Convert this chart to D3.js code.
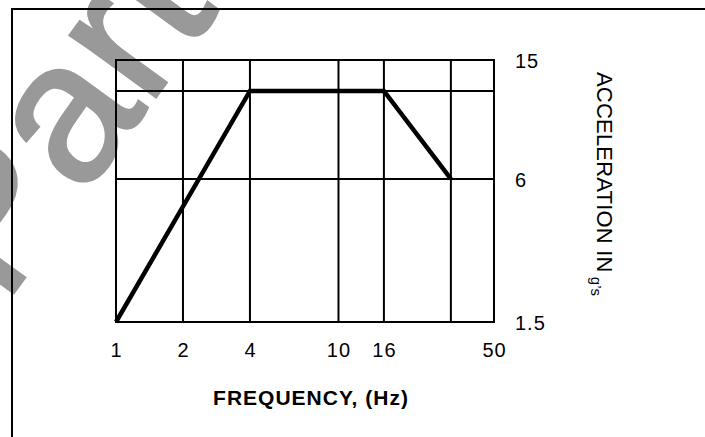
<!DOCTYPE html>
<html><head><meta charset="utf-8">
<script src="https://cdn.jsdelivr.net/npm/d3@7"></script>
<style>
html,body{margin:0;padding:0;background:#fff;}
svg{display:block;font-family:"Liberation Sans",Arial,Helvetica,sans-serif;}
</style></head>
<body>
<svg id="c" width="705" height="437"></svg>
<script>
// ---- data ----
const frequencyHz = [1, 4, 16, 32];
const accelerationG = [1.5, 12, 12, 6];
const xTickValues = [1, 2, 4, 10, 16, 50];
const xGridValues = [2, 4, 10, 16, 32];
const yTickValues = [1.5, 6, 15];
const yGridValues = [6, 12];
const xTitle = "FREQUENCY, (Hz)";
const yTitle = "ACCELERATION IN";
const yTitleSub = "g\u2019s";
const watermark = "Part";

const svg = d3.select("#c");

// watermark (behind everything)
svg.append("text")
  .attr("transform", "translate(4,306) rotate(-54)")
  .attr("font-size", 200)
  .attr("fill", "#999")
  .attr("stroke", "#999").attr("stroke-width", 3)
  .text(watermark);

// outer border (extends past the window)
svg.append("rect").attr("x", 12).attr("y", 9).attr("width", 760).attr("height", 500)
  .attr("fill", "none").attr("stroke", "#000").attr("stroke-width", 2);

const x = d3.scaleLog().domain([1, 50]).range([116, 494]);
const y = d3.scalePow().exponent(0.2).domain([1.5, 15]).range([322, 60]);

const g = svg.append("g");

// grid
g.selectAll(".vg").data(xGridValues).join("line")
  .attr("x1", d => x(d)).attr("x2", d => x(d))
  .attr("y1", y(15)).attr("y2", y(1.5))
  .attr("stroke", "#000").attr("stroke-width", 2);
g.selectAll(".hg").data(yGridValues).join("line")
  .attr("x1", x(1)).attr("x2", x(50))
  .attr("y1", d => y(d)).attr("y2", d => y(d))
  .attr("stroke", "#000").attr("stroke-width", 2);

// frame
g.append("rect")
  .attr("x", x(1)).attr("y", y(15))
  .attr("width", x(50) - x(1)).attr("height", y(1.5) - y(15))
  .attr("fill", "none").attr("stroke", "#000").attr("stroke-width", 2);

// data line
const line = d3.line().x((d, i) => x(frequencyHz[i])).y(d => y(d));
g.append("path").datum(accelerationG)
  .attr("d", line)
  .attr("fill", "none").attr("stroke", "#000").attr("stroke-width", 4.5)
  .attr("stroke-linejoin", "miter");

// x tick labels
const xAxis = d3.axisBottom(x).tickValues(xTickValues).tickFormat(d3.format("")).tickSize(0).tickPadding(0);
const xa = svg.append("g").attr("transform", `translate(0,${y(1.5)})`).call(xAxis);
xa.select(".domain").remove();
xa.selectAll("text").attr("font-size", 20).attr("font-family", "Liberation Sans, Arial, sans-serif")
  .attr("fill", "#000").attr("y", 35).attr("dy", 0).attr("letter-spacing", 1);

// y tick labels (right)
const yAxis = d3.axisRight(y).tickValues(yTickValues).tickFormat(d3.format("")).tickSize(0).tickPadding(0);
const ya = svg.append("g").attr("transform", `translate(${x(50)},0)`).call(yAxis);
ya.select(".domain").remove();
ya.selectAll("text").attr("font-size", 20).attr("font-family", "Liberation Sans, Arial, sans-serif")
  .attr("fill", "#000").attr("x", 21).attr("dy", "0.36em").attr("letter-spacing", 1);

// x title
svg.append("text")
  .attr("x", 311).attr("y", 405)
  .attr("text-anchor", "middle")
  .attr("font-size", 21).attr("font-weight", "bold").attr("letter-spacing", 1)
  .text(xTitle);

// y title rotated
const yt = svg.append("text")
  .attr("transform", "translate(597,72) rotate(90)")
  .attr("font-size", 22).attr("letter-spacing", 0.2);
yt.append("tspan").text(yTitle);
yt.append("tspan").attr("dx", 4).attr("dy", 6).attr("font-size", 15).text(yTitleSub);
</script>
</body></html>
